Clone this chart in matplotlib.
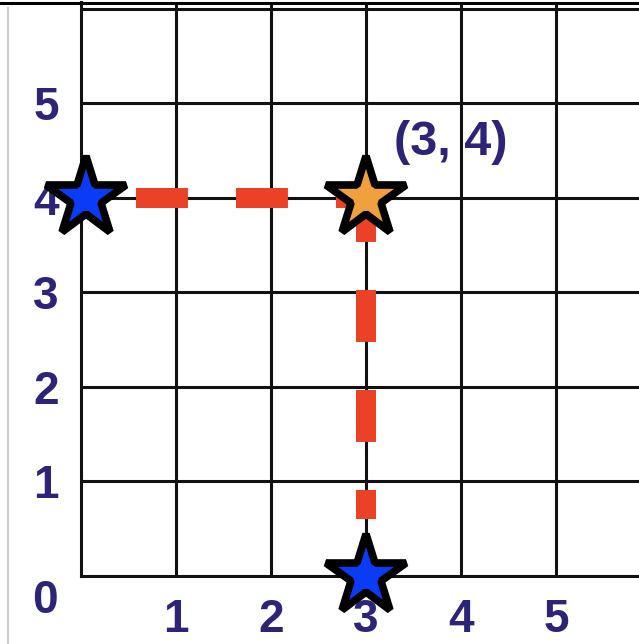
"""Coordinate grid: walking to the point (3, 4)"""
import matplotlib.pyplot as plt
from matplotlib.lines import Line2D

plt.rcParams['font.family'] = ['Liberation Sans', 'DejaVu Sans']
plt.rcParams['lines.scale_dashes'] = False

#%% data
tick_vals = [1, 2, 3, 4, 5]
tick_labels = ['1', '2', '3', '4', '5']

# start points on the axes (blue) and the target point (orange)
start_x = [0.05, 3]
start_y = [4, 0]
target_x = [3]
target_y = [4]
target_label = '(3, 4)'

# dashed guides from the axes to the point
guide_h_x = [0.58, 3.1]
guide_h_y = [4, 4]
guide_v_x = [3, 3]
guide_v_y = [4.08, 0.6]

label_col = '#2c2478'
grid_col = '#111111'

#%% plot
fig = plt.figure(figsize=(6.39, 6.44), dpi=100)
ax = fig.add_axes([81 / 639, 68 / 644, 558 / 639, 574 / 644])

ax.set_xticks(tick_vals + [6])
ax.set_xticklabels(tick_labels + [''])
ax.set_yticks(tick_vals + [6])
ax.set_yticklabels(tick_labels + [''])
# limits after the ticks, otherwise the tick at 6 widens the view
ax.set_xlim(0, 5.874)
ax.set_ylim(0, 6.07)
ax.tick_params(length=0, labelsize=33, labelcolor=label_col)
ax.tick_params(axis='x', pad=16)
ax.tick_params(axis='y', pad=16)
for lab in ax.get_xticklabels() + ax.get_yticklabels():
    lab.set_fontweight('bold')
ax.grid(True, color=grid_col, lw=2.2, zorder=0)
ax.set_axisbelow(True)
for s in ['top', 'right']:
    ax.spines[s].set_visible(False)
for s in ['left', 'bottom']:
    ax.spines[s].set_color(grid_col)
    ax.spines[s].set_linewidth(2.2)

ax.text(-0.38, -0.26, '0', fontsize=33, fontweight='bold', color=label_col,
        ha='center', va='center', clip_on=False)

dash_style = dict(color='#ea4127', lw=14.4, dashes=(37.4, 34.6),
                  solid_capstyle='butt', dash_capstyle='butt', zorder=2)
ax.plot(guide_h_x, guide_h_y, **dash_style)
ax.plot(guide_v_x, guide_v_y, **dash_style)

ax.plot(start_x, start_y, '*', ms=60, mfc='#0a3cf5', mec='black', mew=5.5,
        ls='none', zorder=3, clip_on=False)
ax.plot(target_x, target_y, '*', ms=60, mfc='#f0a03c', mec='black', mew=5.5,
        ls='none', zorder=3, clip_on=False)
ax.text(target_x[0] + 0.3, target_y[0] + 0.58, target_label, fontsize=35,
        fontweight='bold', color=label_col, ha='left', va='center')

# frame edges of the original slide
fig.add_artist(Line2D([0, 1], [1 - 2.5 / 644, 1 - 2.5 / 644], color='black', lw=2.2))
fig.add_artist(Line2D([8 / 639, 8 / 639], [0, 1 - 8 / 644], color='#cccccc', lw=1.5))

fig.savefig('out.png', dpi=100)
